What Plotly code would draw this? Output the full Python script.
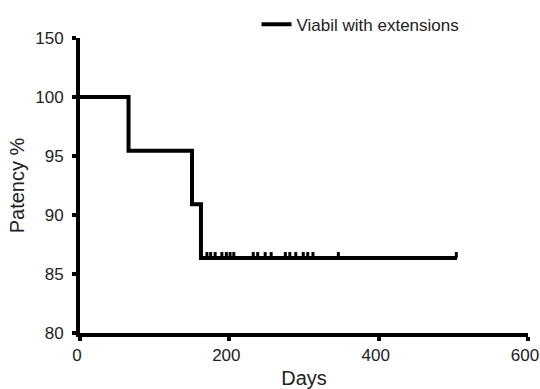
import plotly.graph_objects as go

# Kaplan-Meier step curve
step_days = [0, 65, 150, 162, 505]
step_patency = [100, 95.45, 90.91, 86.36, 86.36]

# censored observations (tick marks)
censor_days = [170, 175, 181, 190, 196, 201, 206, 232, 238, 248, 256,
               275, 281, 289, 299, 305, 312, 346, 504]
censor_patency = [86.36] * len(censor_days)

y_tickvals = [80, 85, 90, 95, 100, 105]
y_ticktext = ["80", "85", "90", "95", "100", "150"]
x_tickvals = [0, 200, 400, 600]

TICK_UP = 0.5
FONT = "Liberation Sans, Arial, Helvetica, sans-serif"

fig = go.Figure()
fig.add_trace(go.Scatter(
    x=step_days, y=step_patency, mode="lines", line_shape="hv",
    line=dict(color="black", width=4), name="Viabil with extensions",
    showlegend=True,
))
fig.add_trace(go.Scatter(
    x=censor_days, y=censor_patency, mode="markers",
    marker=dict(size=1, color="black"),
    error_y=dict(type="data", symmetric=False,
                 array=[TICK_UP] * len(censor_days),
                 arrayminus=[0] * len(censor_days),
                 width=0, thickness=3, color="black"),
    showlegend=False, hoverinfo="skip",
))

fig.update_layout(
    width=540, height=389,
    margin=dict(l=80, r=12, t=38, b=56, autoexpand=False),
    paper_bgcolor="white", plot_bgcolor="white",
    font=dict(family=FONT, size=17, color="#222222"),
    legend=dict(x=0.394, y=1.045, xanchor="left", yanchor="middle",
                bgcolor="rgba(0,0,0,0)", font=dict(size=17),
                itemwidth=30),
    xaxis=dict(range=[0, 600], tickvals=x_tickvals, showgrid=False,
               zeroline=False, showline=True, linecolor="black", linewidth=4,
               ticks="outside", ticklen=4, tickwidth=4, tickcolor="black",
               ticklabeloverflow="allow", ticklabelshift=-3,
               automargin=False,
               title=dict(text="Days", standoff=10)),
    yaxis=dict(range=[80, 105], tickvals=y_tickvals, ticktext=y_ticktext,
               showgrid=False, zeroline=False, showline=True,
               linecolor="black", linewidth=4, ticks="outside", ticklen=4,
               tickwidth=4, tickcolor="black", ticklabelstandoff=5,
               automargin=False,
               title=dict(text="Patency %", standoff=6)),
)

fig.write_html("out.html", config={"displayModeBar": False, "staticPlot": True})

# remove default page margins so the 540x389 figure fills the window exactly
with open("out.html", encoding="utf-8") as f:
    html = f.read()
html = html.replace("<head>", "<head><style>html,body{margin:0;padding:0;overflow:hidden;}</style>", 1)
with open("out.html", "w", encoding="utf-8") as f:
    f.write(html)
